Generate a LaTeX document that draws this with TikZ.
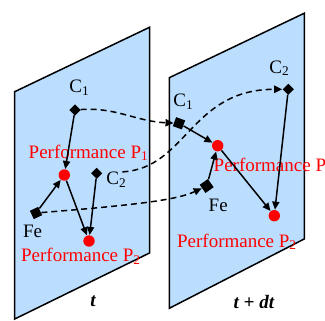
\documentclass[tikz,border=0pt]{standalone}
\usepackage{fontspec}
\setmainfont{Liberation Serif}
\usetikzlibrary{arrows.meta}
\definecolor{planeblue}{RGB}{187,222,255}
\newcommand{\tplane}[3]{%
  \filldraw[fill=planeblue,draw=black,line width=0.75pt]
    (#1,#2) -- ++(135,-64.5) -- ++(0,225.7) -- (#1,#3) -- cycle;}
\tikzset{
  sqmark/.style={fill=black,inner sep=0pt,minimum size=#1},
  reddot/.style={circle,fill=red,inner sep=0pt,minimum size=5.7pt},
  lbl/.style={inner sep=0pt,anchor=base west,font=\fontsize{9.5}{11}\selectfont},
  perf/.style={lbl,text=red},
  flow/.style={line width=0.75pt,-{Triangle[length=4pt,width=3.6pt]}},
  drift/.style={flow,dash pattern=on 3pt off 2pt}
}
\begin{document}
\begin{tikzpicture}[x=0.5pt,y=-0.5pt]
  \useasboundingbox (0,0) rectangle (325,320);
  \tplane{14.7}{91.7}{319}
  \tplane{169.3}{77.7}{308.3}
  % plane t
  \node[sqmark=3.9pt,rotate=45] (c1a) at (75,110) {};
  \node[sqmark=3.9pt,rotate=45] (c2a) at (96.7,173.3) {};
  \node[sqmark=4.6pt,rotate=25] (fea) at (36,213) {};
  \node[reddot] (p1a) at (64.3,175) {};
  \node[reddot] (p2a) at (89,241) {};
  \node[lbl] (c1alab) at (69,93) {C\textsubscript{1}};
  \node[lbl] (c2alab) at (106,184.5) {C\textsubscript{2}};
  \node[lbl] (fealab) at (22.7,237) {Fe};
  \node[perf] (p1alab) at (28.3,158.3) {Performance P\textsubscript{1}};
  \node[perf] (p2alab) at (20.7,261.7) {Performance P\textsubscript{2}};
  \node[lbl] (tlab) at (90,306.7) {\textbf{\textit{t}}};
  % plane t + dt
  \node[sqmark=4.8pt,rotate=-20] (c1b) at (179,123.3) {};
  \node[sqmark=3.9pt,rotate=45] (c2b) at (288.3,89.3) {};
  \node[sqmark=5pt,rotate=35] (feb) at (206.7,186) {};
  \node[reddot] (p1b) at (217.7,145.7) {};
  \node[reddot] (p2b) at (274.3,215.7) {};
  \node[lbl] (c1blab) at (173,106.7) {C\textsubscript{1}};
  \node[lbl] (c2blab) at (269,73.3) {C\textsubscript{2}};
  \node[lbl] (feblab) at (208.3,211) {Fe};
  \node[perf] (p1blab) at (213.3,171.7) {Performance P\textsubscript{1}};
  \node[perf] (p2blab) at (176.7,247.3) {Performance P\textsubscript{2}};
  \node[lbl] (tdtlab) at (233.3,308.3) {\textbf{\textit{t + dt}}};
  % links inside each plane
  \draw[flow] (c1a) -- (p1a);
  \draw[flow] (fea) -- (p1a);
  \draw[flow] (p1a) -- (p2a);
  \draw[flow] (c2a) -- (p2a);
  \draw[flow] (c1b) -- (p1b);
  \draw[flow] (feb) -- (p1b);
  \draw[flow] (p1b) -- (p2b);
  \draw[flow] (c2b) -- (p2b);
  % drift from t to t + dt
  \draw[drift] (c1a) to[out=0,in=180] (c1b);
  \draw[drift,shorten <=10pt] (c2a) .. controls +(90,-5) and +(-98,0) .. (c2b);
  \draw[drift] (fea) .. controls +(100,-8) and +(-30,14) .. (feb);
\end{tikzpicture}
\end{document}
